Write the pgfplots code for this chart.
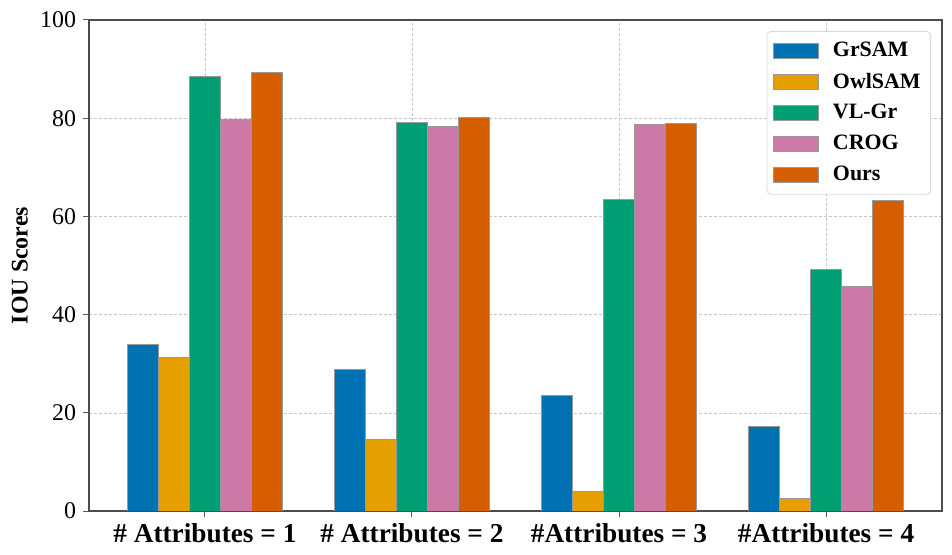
\documentclass[border=0pt]{standalone}
\usepackage{pgfplots}
\usepackage{pgfplotstable}
\pgfplotsset{compat=1.18}
\usepackage{fontspec}
\setmainfont{Liberation Serif}

\definecolor{cGr}{HTML}{0072B2}
\definecolor{cOwl}{HTML}{E69F00}
\definecolor{cVL}{HTML}{009E73}
\definecolor{cCROG}{HTML}{CC79A7}
\definecolor{cOurs}{HTML}{D55E00}

\pgfplotstableread{
x GrSAM OwlSAM VLGr CROG Ours
0 34.0 31.2 88.4 79.8 89.4
1 28.9 14.5 79.2 78.4 80.2
2 23.6 3.9 63.5 78.8 79.0
3 17.3 2.6 49.1 45.8 63.3
}\scores

\begin{document}
\begin{tikzpicture}
\begin{axis}[
  width=426.5bp, height=245.5bp, scale only axis,
  ybar=0pt, bar width=0.15,
  xmin=-0.56, xmax=3.56, ymin=0, ymax=100,
  xtick={0,1,2,3},
  xticklabels={\# Attributes = 1, \# Attributes = 2, \#Attributes = 3, \#Attributes = 4},
  ytick={0,20,40,60,80,100},
  x tick label style={font=\bfseries\fontsize{13.7}{15}\selectfont},
  y tick label style={font=\fontsize{12}{14}\selectfont},
  /pgf/number format/assume math mode=true,
  tick align=outside, tick pos=left,
  major tick length=3bp,
  every tick/.style={gray!70!black, line width=0.5pt},
  axis line style={gray!60!black, line width=0.6pt},
  grid=major,
  major grid style={dash pattern=on 1.5bp off 1bp, gray!45, line width=0.3pt},
  ylabel={IOU Scores},
  ylabel style={font=\bfseries\fontsize{12}{14}\selectfont, at={(axis description cs:-0.081,0.5)}, anchor=center},
  legend style={at={(1,1)}, xshift=-5.5bp, yshift=-5.5bp, anchor=north east,
    draw=gray!30, rounded corners=2pt, font=\bfseries\fontsize{11}{13}\selectfont,
    row sep=2.6bp, inner xsep=3bp, inner ysep=3.5bp},
  legend cell align=left,
  legend image code/.code={\draw[#1, sharp corners] (0bp,-3.75bp) rectangle (22.5bp,3.75bp); \path (27.5bp,0bp);},
  every axis plot/.append style={draw=gray!80, line width=0.5pt},
]
\addplot[fill=cGr] table[x=x, y=GrSAM] {\scores};
\addplot[fill=cOwl] table[x=x, y=OwlSAM] {\scores};
\addplot[fill=cVL] table[x=x, y=VLGr] {\scores};
\addplot[fill=cCROG] table[x=x, y=CROG] {\scores};
\addplot[fill=cOurs] table[x=x, y=Ours] {\scores};
\legend{GrSAM, OwlSAM, VL-Gr, CROG, Ours}
\end{axis}
\path[use as bounding box] (-44.5bp,-22bp) rectangle (431.5bp,255.5bp);
\end{tikzpicture}
\end{document}
